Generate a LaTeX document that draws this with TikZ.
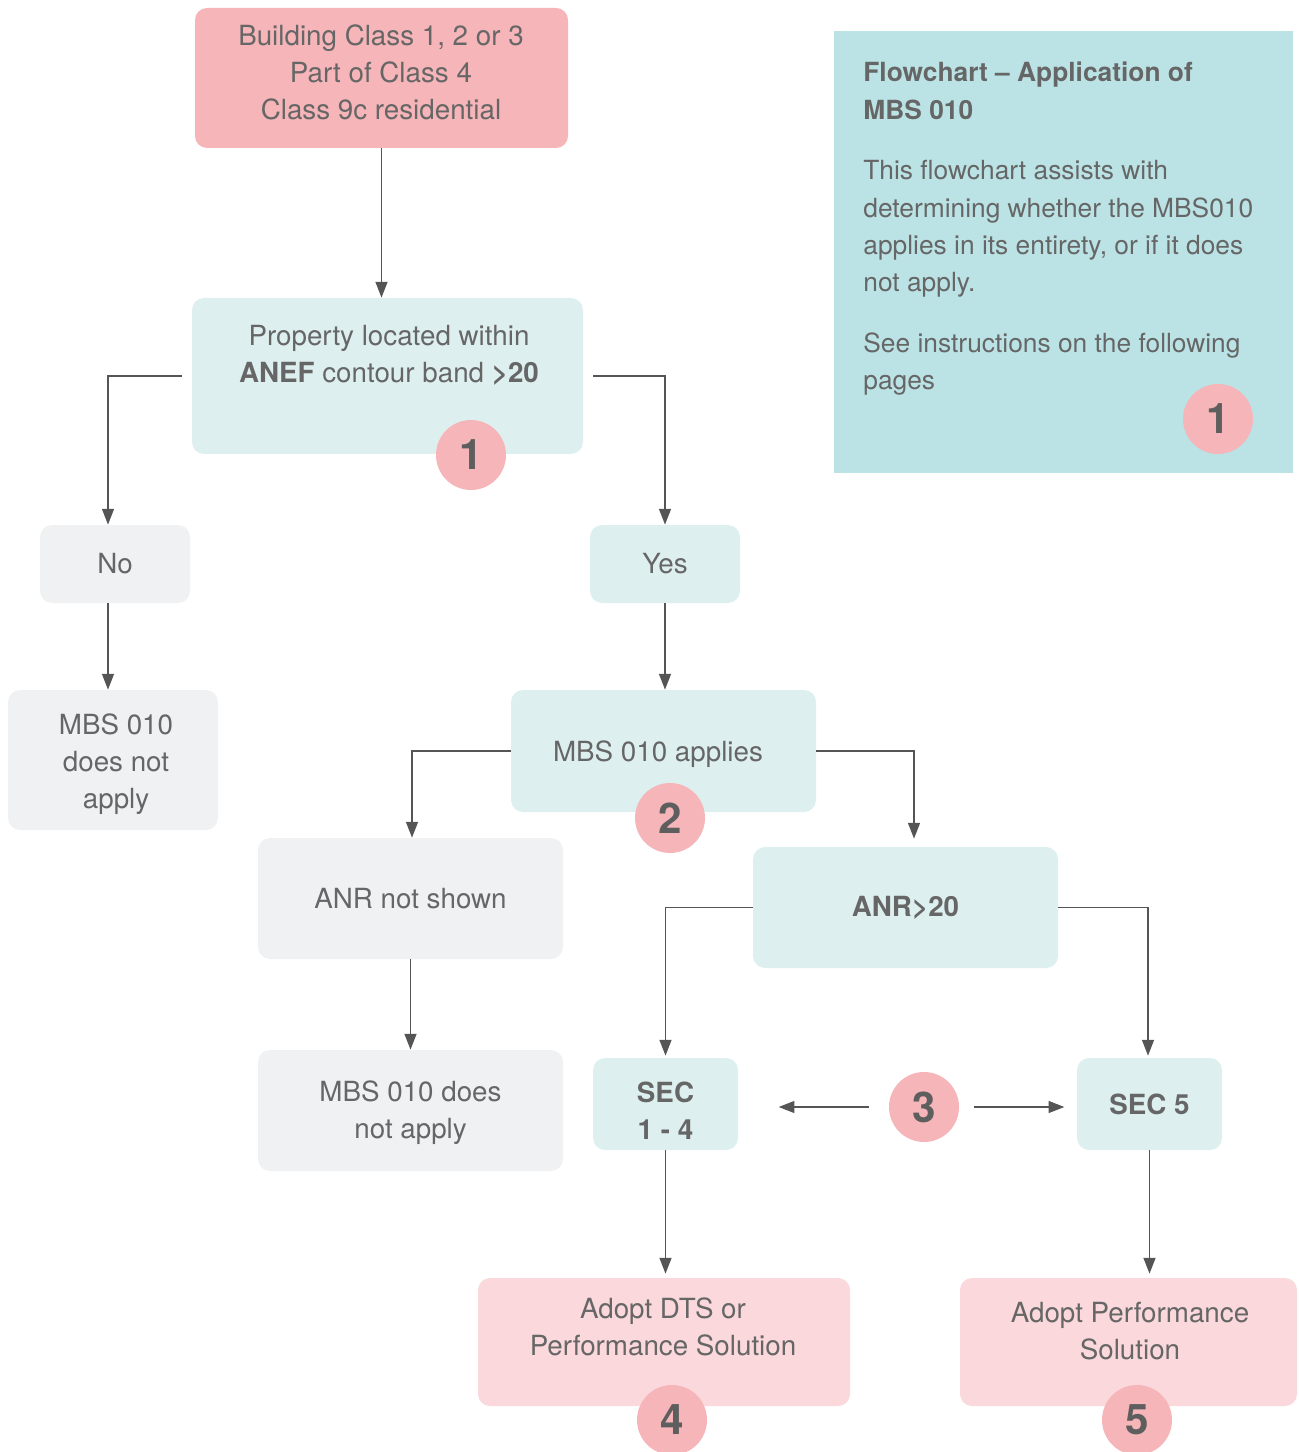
\documentclass[tikz,border=0pt]{standalone}
\usepackage{fontspec}
\setmainfont{TeX Gyre Heros}
\usepackage{tikz}
\usetikzlibrary{arrows.meta}

\newlength\pxu
\setlength\pxu{0.02cm}

\definecolor{startpink}{HTML}{F6B5B9}
\definecolor{endpink}{HTML}{FAD8DB}
\definecolor{flowteal}{HTML}{DDF0EF}
\definecolor{flowgrey}{HTML}{F0F1F3}
\definecolor{panelteal}{HTML}{BBE3E5}
\definecolor{txtgrey}{HTML}{666666}
\definecolor{numgrey}{HTML}{5E5E5E}
\definecolor{linegrey}{HTML}{555555}

\tikzset{
  flowbox/.style={rounded corners=12\pxu, inner sep=0pt, text=txtgrey, align=center,
    font=\fontsize{15.8}{21}\selectfont},
  boxtext/.style={inner sep=0pt, text=txtgrey, align=center, font=\fontsize{15.8}{21}\selectfont},
  numcirc/.style={circle, fill=startpink, minimum size=70\pxu, inner sep=0pt, text=numgrey,
    font=\fontsize{24}{24}\selectfont\bfseries},
  flowline/.style={draw=linegrey, line width=0.85pt, -{Triangle[length=9pt,width=6.8pt]}},
}

\begin{document}
\begin{tikzpicture}[x=1\pxu, y=-1\pxu]
\useasboundingbox (0,0) rectangle (1298,1452);

% Info panel
\fill[panelteal] (834,31) rectangle (1293,473);
\node[boxtext, align=left, anchor=north west, font=\fontsize{15}{21.3}\selectfont] (info) at (863,62)
  {\textbf{Flowchart -- Application of}\\\textbf{MBS 010}\\[13pt]
   This flowchart assists with\\determining whether the MBS010\\applies in its entirety, or if it does\\not apply.\\[13pt]
   See instructions on the following\\pages};
\node[numcirc] (n0) at (1218,419) {1};

% Boxes
\node[flowbox, fill=startpink, minimum width=373\pxu, minimum height=140\pxu] (start) at (381.5,78) {};
\node[boxtext] (start-t) at (381,72) {Building Class 1, 2 or 3\\Part of Class 4\\Class 9c residential};

\node[flowbox, fill=flowteal, minimum width=391\pxu, minimum height=156\pxu] (prop) at (387.5,376) {};
\node[boxtext] (prop-t) at (389,355) {Property located within\\\textbf{ANEF} contour band \textbf{>20}};
\node[numcirc] (n1) at (471,455) {1};

\node[flowbox, fill=flowgrey, minimum width=150\pxu, minimum height=78\pxu] (no) at (115,564) {No};
\node[flowbox, fill=flowteal, minimum width=150\pxu, minimum height=78\pxu] (yes) at (665,564) {Yes};

\node[flowbox, fill=flowgrey, minimum width=210\pxu, minimum height=140\pxu] (notapply) at (113,760) {};
\node[boxtext] (notapply-t) at (116,764) {MBS 010\\does not\\apply};
\node[flowbox, fill=flowteal, minimum width=305\pxu, minimum height=122\pxu] (applies) at (663.5,751) {};
\node[boxtext] (applies-t) at (658,754) {MBS 010 applies};
\node[numcirc] (n2) at (670,818) {2};

\node[flowbox, fill=flowgrey, minimum width=305\pxu, minimum height=121\pxu] (anrnot) at (410.5,898.5)
  {ANR not shown};
\node[flowbox, fill=flowteal, minimum width=305\pxu, minimum height=121\pxu] (anr) at (905.5,907.5)
  {\textbf{ANR>20}};
\node[flowbox, fill=flowgrey, minimum width=305\pxu, minimum height=121\pxu] (notapply2) at (410.5,1110.5) {};
\node[boxtext] (notapply2-t) at (410.5,1113) {MBS 010 does\\not apply};

\node[flowbox, fill=flowteal, minimum width=145\pxu, minimum height=92\pxu] (sec14) at (665.5,1104) {};
\node[boxtext] (sec14-t) at (665.5,1111) {\textbf{SEC}\\\textbf{1 - 4}};
\node[flowbox, fill=flowteal, minimum width=145\pxu, minimum height=92\pxu] (sec5) at (1149.5,1104)
  {\textbf{SEC 5}};
\node[numcirc] (n3) at (924,1107) {3};

\node[flowbox, fill=endpink, minimum width=372\pxu, minimum height=128\pxu] (dts) at (664,1342) {};
\node[boxtext] (dts-t) at (663,1327) {Adopt DTS or\\Performance Solution};
\node[numcirc] (n4) at (672,1420) {4};

\node[flowbox, fill=endpink, minimum width=337\pxu, minimum height=128\pxu] (perf) at (1128.5,1342) {};
\node[boxtext] (perf-t) at (1130,1331) {Adopt Performance\\Solution};
\node[numcirc] (n5) at (1137,1420) {5};

% Connectors
\draw[flowline] (start.south) -- (start.south |- prop.north);
\draw[flowline] ([xshift=-10\pxu]prop.west) -| ([xshift=-7\pxu]no.north);
\draw[flowline] ([xshift=10\pxu]prop.east) -| (yes.north);
\draw[flowline] ([xshift=-7\pxu]no.south) -- ([xshift=-7\pxu]no.south |- notapply.north);
\draw[flowline] (yes.south) -- (yes.south |- applies.north);
\draw[flowline] (applies.west) -| ([xshift=1.5\pxu]anrnot.north);
\draw[flowline] (applies.east) -| ([xshift=8.5\pxu,yshift=8\pxu]anr.north);
\draw[flowline] (anrnot.south) -- (anrnot.south |- notapply2.north);
\draw[flowline] (anr.west) -| ([yshift=2\pxu]sec14.north);
\draw[flowline] (anr.east) -| ([xshift=-1.5\pxu,yshift=2\pxu]sec5.north);
\draw[flowline] ([xshift=-20\pxu]n3.west) -- ([xshift=-110\pxu]n3.west);
\draw[flowline] ([xshift=15\pxu]n3.east) -- ([xshift=105\pxu]n3.east);
\draw[flowline] (sec14.south) -- ([yshift=4\pxu]sec14.south |- dts.north);
\draw[flowline] (sec5.south) -- ([yshift=4\pxu]sec5.south |- perf.north);

\end{tikzpicture}
\end{document}
